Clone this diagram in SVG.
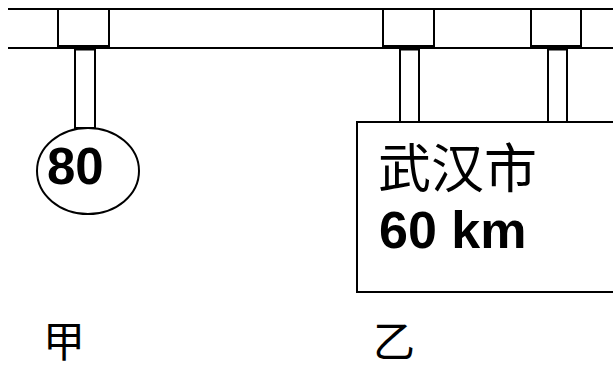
<svg xmlns="http://www.w3.org/2000/svg" width="613" height="370" viewBox="0 0 613 370">
<style>
.ln{stroke:#000;stroke-width:2;fill:none}
.sh{stroke:#000;stroke-width:2;fill:#fff}
.num{font-family:"Liberation Sans",Arial,sans-serif;font-weight:bold;fill:#000}
.cjk{font-family:"Noto Sans CJK SC","Noto Sans CJK JP",sans-serif;fill:#000}
</style>
<rect width="613" height="370" fill="#fff"/>
<g id="rail">
<line class="ln" x1="8" y1="9" x2="613" y2="9"/>
<line class="ln" x1="8" y1="48" x2="613" y2="48"/>
</g>
<g id="clamps">
<rect class="sh" x="58" y="9" width="51" height="37"/>
<rect class="sh" x="383" y="9" width="51" height="37"/>
<rect class="sh" x="531" y="9" width="50" height="37"/>
</g>
<g id="posts">
<rect class="sh" x="75" y="48" width="20" height="80"/>
<line x1="75" y1="49" x2="95" y2="49" stroke="#000" stroke-width="3"/>
<rect class="sh" x="400" y="48" width="19" height="74"/>
<line x1="400" y1="49" x2="419" y2="49" stroke="#000" stroke-width="3"/>
<rect class="sh" x="548" y="48" width="19" height="74"/>
<line x1="548" y1="49" x2="567" y2="49" stroke="#000" stroke-width="3"/>
</g>
<g id="sign-jia">
<ellipse class="sh" cx="88" cy="171" rx="51" ry="43"/>
<text class="num" x="47" y="184" font-size="51">80</text>
</g>
<g id="sign-yi">
<rect class="sh" x="357" y="122" width="270" height="170"/>
<text class="cjk" x="378" y="188" font-size="53">武汉市</text>
<text class="num" x="379" y="248" font-size="52">60 km</text>
</g>
<g id="labels">
<text class="cjk" x="43" y="357" font-size="42">甲</text>
<text class="cjk" x="373" y="357" font-size="42">乙</text>
</g>
</svg>
